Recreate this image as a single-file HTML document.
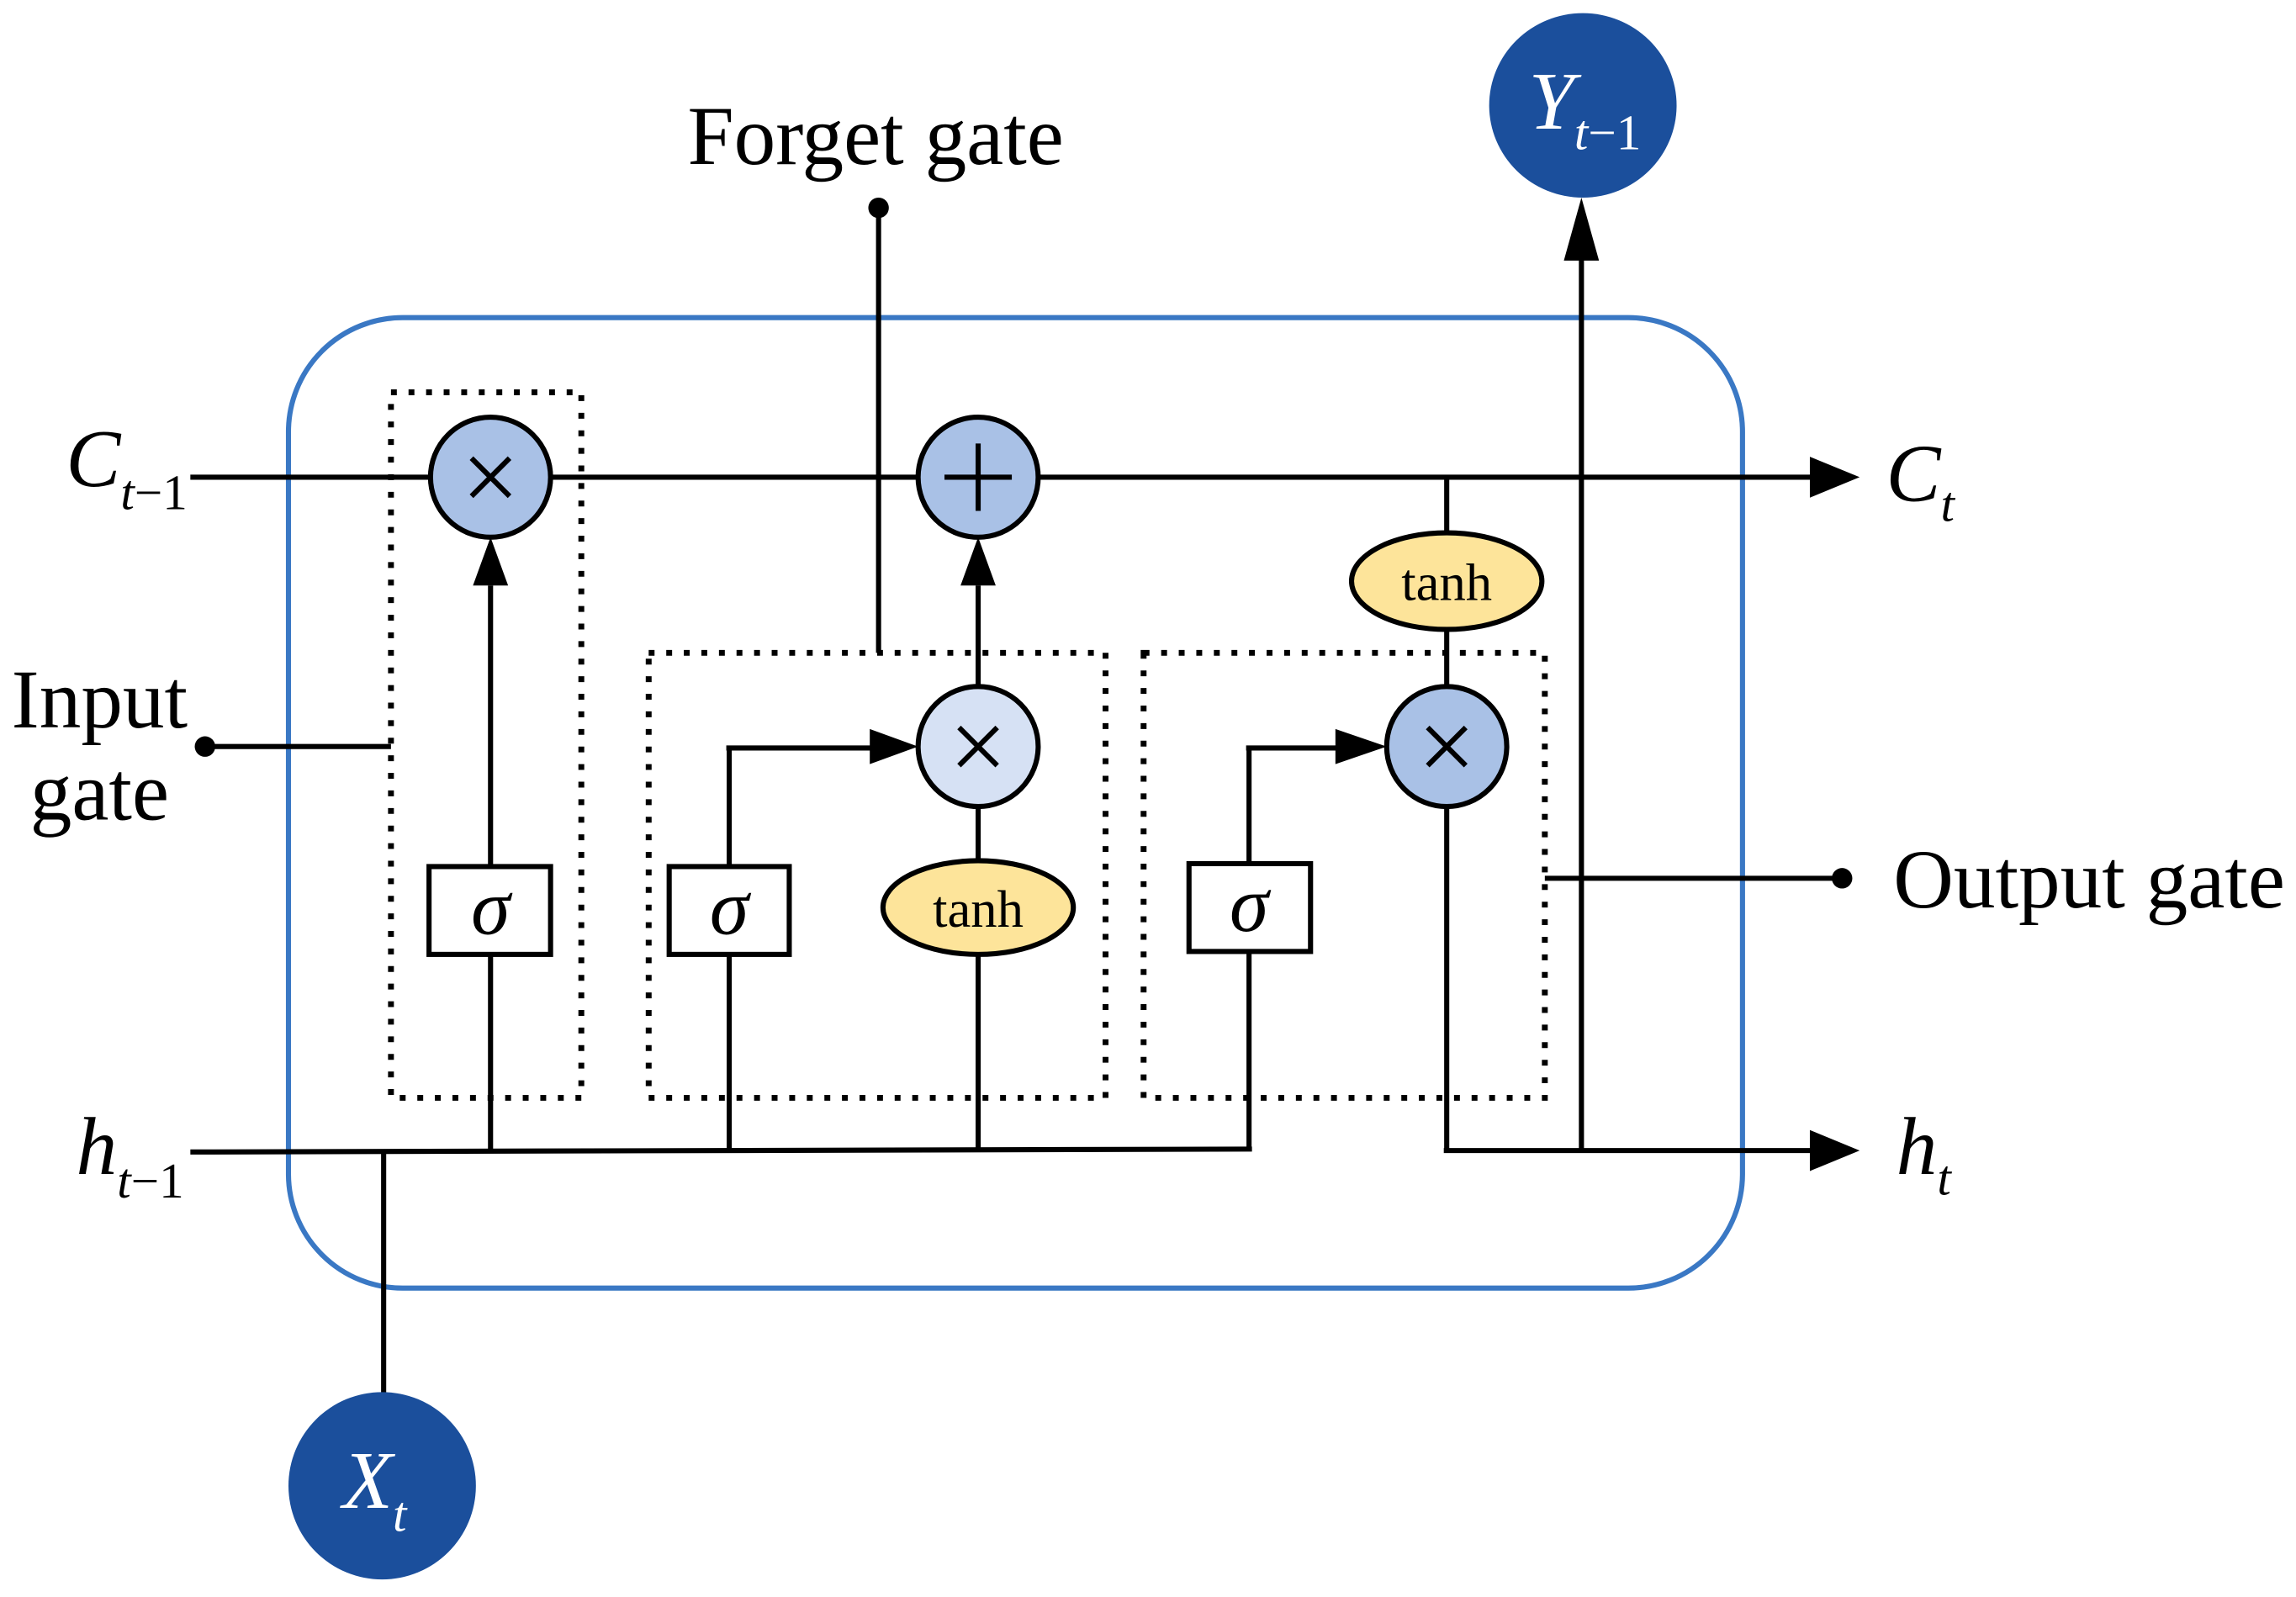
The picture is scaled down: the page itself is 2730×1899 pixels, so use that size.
<!DOCTYPE html>
<html><head><meta charset="utf-8"><style>html,body{margin:0;padding:0;background:#fff}svg{display:block}</style></head>
<body>
<svg width="2730" height="1899" viewBox="0 0 1568 1091" preserveAspectRatio="none" xmlns="http://www.w3.org/2000/svg" font-family="Liberation Serif, serif">
<g stroke="#000" stroke-width="3.5" fill="none">
<rect x="197" y="217" width="993" height="663" rx="78" stroke="#3a78c4" stroke-width="3.5"/>
<line x1="130" y1="326" x2="1238" y2="326"/>
<path d="M1236 312L1270 326L1236 340z" fill="#000" stroke="none"/>
<line x1="130" y1="787" x2="855" y2="785"/>
<line x1="988" y1="551" x2="988" y2="786"/>
<line x1="986" y1="786" x2="1238" y2="786"/>
<path d="M1236 772L1270 786L1236 800z" fill="#000" stroke="none"/>
<g stroke-dasharray="4 8" stroke-width="4">
<rect x="267" y="268" width="130" height="482"/>
<rect x="443" y="446" width="312" height="304"/>
<rect x="781" y="446" width="274" height="304"/>
</g>
<line x1="140" y1="510" x2="267" y2="510"/>
<line x1="335" y1="786" x2="335" y2="400"/>
<path d="M323 400L335 367L347 400z" fill="#000" stroke="none"/>
<line x1="600" y1="142" x2="600" y2="446"/>
<line x1="498" y1="786" x2="498" y2="511"/>
<line x1="496" y1="511" x2="596" y2="511"/>
<path d="M594 498L627 510L594 522z" fill="#000" stroke="none"/>
<line x1="668" y1="786" x2="668" y2="400"/>
<path d="M656 400L668 367L680 400z" fill="#000" stroke="none"/>
<line x1="853" y1="786" x2="853" y2="511"/>
<line x1="851" y1="511" x2="914" y2="511"/>
<path d="M912 498L947 510L912 522z" fill="#000" stroke="none"/>
<line x1="988" y1="326" x2="988" y2="470"/>
<line x1="1055" y1="600" x2="1258" y2="600"/>
<line x1="1080" y1="786" x2="1080" y2="176"/>
<path d="M1068 178L1080 135L1092 178z" fill="#000" stroke="none"/>
<line x1="262" y1="786" x2="262" y2="952"/>
<circle cx="335" cy="326" r="41" fill="#a9c1e6"/>
<circle cx="668" cy="326" r="41" fill="#a9c1e6"/>
<circle cx="668" cy="510" r="41" fill="#d6e1f4"/>
<circle cx="988" cy="510" r="41" fill="#a9c1e6"/>
<rect x="293" y="592" width="83" height="60" fill="#fff"/>
<rect x="457" y="592" width="82" height="60" fill="#fff"/>
<rect x="812" y="590" width="83" height="60" fill="#fff"/>
<ellipse cx="668" cy="620" rx="65" ry="32" fill="#fde49a"/>
<ellipse cx="988" cy="397" rx="65" ry="33" fill="#fde49a"/>
<path d="M322 313L348 339M348 313L322 339"/>
<path d="M655 497L681 523M681 497L655 523"/>
<path d="M975 497L1001 523M1001 497L975 523"/>
<path d="M645 326L691 326M668 303L668 349"/>
</g>
<circle cx="140" cy="510" r="7"/>
<circle cx="600" cy="142" r="7"/>
<circle cx="1258" cy="600" r="7"/>
<ellipse cx="1081" cy="72" rx="64" ry="63" fill="#1b4f9c"/>
<ellipse cx="261" cy="1015" rx="64" ry="64" fill="#1b4f9c"/>
<g font-size="57" text-anchor="middle">
<text x="598" y="112">Forget gate</text>
<text x="68" y="497">Input</text>
<text x="68" y="560">gate</text>
</g>
<text x="1293" y="620" font-size="57">Output gate</text>
<g font-size="54" font-style="italic" text-anchor="middle">
<text x="335" y="638">σ</text>
<text x="498" y="638">σ</text>
<text x="853" y="636">σ</text>
</g>
<g font-size="36" text-anchor="middle">
<text x="668" y="633">tanh</text>
<text x="988" y="410">tanh</text>
</g>
<g font-size="56" font-style="italic">
<text x="45" y="332">C<tspan font-size="34" dy="16">t</tspan><tspan font-size="34" font-style="normal">−1</tspan></text>
<text x="52" y="802">h<tspan font-size="34" dy="16">t</tspan><tspan font-size="34" font-style="normal">−1</tspan></text>
<text x="1288" y="342">C<tspan font-size="34" dy="14">t</tspan></text>
<text x="1295" y="802">h<tspan font-size="34" dy="14">t</tspan></text>
<text x="1044" y="88" fill="#fff">Y<tspan font-size="34" dy="14">t</tspan><tspan font-size="34" font-style="normal">−1</tspan></text>
<text x="234" y="1030" fill="#fff">X<tspan font-size="34" dy="16">t</tspan></text>
</g>
</svg>
</body></html>
